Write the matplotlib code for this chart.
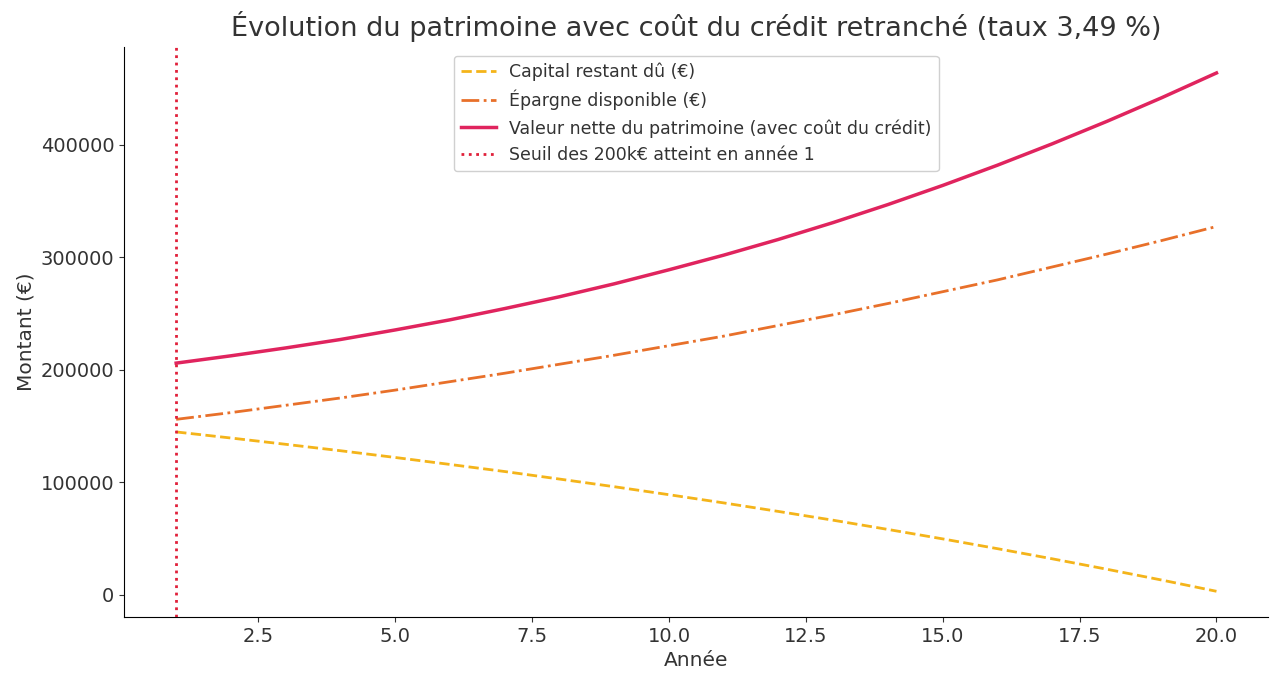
import numpy as np
import matplotlib
matplotlib.use("Agg")
import matplotlib.pyplot as plt

# values (in euros)
annees = list(range(1, 21))
capital_restant = [144800, 139400, 133800, 128100, 122100, 115900, 109600, 102900, 96100, 89000,
                   81700, 74100, 66300, 58100, 49700, 41000, 32000, 22700, 13100, 3100]
epargne = [156000, 162000, 168500, 175000, 182000, 189500, 197000, 205000, 213000, 221500,
           230000, 239500, 249000, 259000, 269500, 280000, 291500, 303000, 315000, 327500]
valeur_nette = [206000, 212500, 219500, 227000, 235500, 244500, 254500, 265000, 276500, 289000,
                302000, 316000, 331000, 347000, 364000, 382000, 401000, 421000, 442000, 464000]
annee_seuil = 1

plt.rcParams['font.family'] = 'DejaVu Sans'
plt.rcParams['text.color'] = '#333333'
plt.rcParams['axes.labelcolor'] = '#333333'
plt.rcParams['xtick.color'] = '#333333'
plt.rcParams['ytick.color'] = '#333333'

fig = plt.figure(figsize=(12.8, 6.82), dpi=100)
ax = fig.add_axes([0.097, 0.095, 0.894, 0.836])

ax.plot(annees, capital_restant, linestyle='--', color='#f4b41a', linewidth=2,
        label='Capital restant dû (€)')
ax.plot(annees, epargne, linestyle='-.', color='#e8702a', linewidth=2,
        label='Épargne disponible (€)')
ax.plot(annees, valeur_nette, linestyle='-', color='#e0245e', linewidth=2.5,
        label='Valeur nette du patrimoine (avec coût du crédit)')
ax.axvline(annee_seuil, linestyle=':', color='#e0203a', linewidth=2,
           label='Seuil des 200k€ atteint en année 1')

ax.set_title('Évolution du patrimoine avec coût du crédit retranché (taux 3,49 %)',
             fontsize=19.5, pad=8)
ax.set_xlabel('Année', fontsize=14.5)
ax.set_ylabel('Montant (€)', fontsize=14.5)
ax.tick_params(labelsize=14)

ax.spines['top'].set_visible(False)
ax.spines['right'].set_visible(False)

leg = ax.legend(loc='upper center', fontsize=12.5, framealpha=1)
leg.get_frame().set_edgecolor('#d0d0d0')

fig.savefig('out.png', dpi=100)
